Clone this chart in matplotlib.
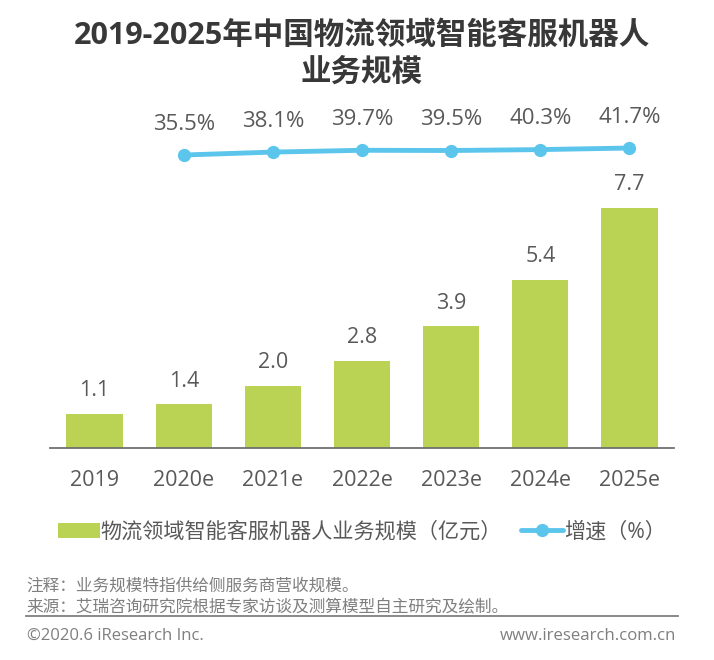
import matplotlib
matplotlib.use("Agg")
import matplotlib.pyplot as plt

plt.rcParams['font.family'] = ['Open Sans', 'Noto Sans CJK SC', 'DejaVu Sans']

# chart data
years = ['2019', '2020e', '2021e', '2022e', '2023e', '2024e', '2025e']
market_size = [1.1, 1.4, 2.0, 2.8, 3.9, 5.4, 7.7]
growth_years = ['2020e', '2021e', '2022e', '2023e', '2024e', '2025e']
growth_rate = [35.5, 38.1, 39.7, 39.5, 40.3, 41.7]

title = '2019-2025年中国物流领域智能客服机器人\n业务规模'
bar_label = '物流领域智能客服机器人业务规模（亿元）'
line_label = '增速（%）'
note = '注释：业务规模特指供给侧服务商营收规模。'
source = '来源：艾瑞咨询研究院根据专家访谈及测算模型自主研究及绘制。'
copyright_text = '©2020.6 iResearch Inc.'
website = 'www.iresearch.com.cn'

GREEN = '#BBD354'
BLUE = '#5BC5EC'
TEXT = '#595959'
GRAY = '#7F7F7F'

W, H = 714, 660
fig = plt.figure(figsize=(W / 100, H / 100), dpi=100, facecolor='white')

# axes box in pixels: x 50-674, y 100-448
ax = fig.add_axes([50 / W, (H - 448) / H, 624 / W, 348 / H])
ax.set_facecolor('none')
x = list(range(len(years)))
bars = ax.bar(x, market_size, width=0.63, color=GREEN)
ax.set_xlim(-0.5, 6.5)
ax.set_ylim(0, 11.16)
ax.set_xticks(x)
ax.set_xticklabels(years, fontsize=15.5, color=TEXT)
ax.set_yticks([])
ax.tick_params(axis='x', length=0, pad=15.5)
for s in ['top', 'left', 'right']:
    ax.spines[s].set_visible(False)
ax.spines['bottom'].set_color('#6F6F6F')
ax.spines['bottom'].set_linewidth(1.3)

for i, v in zip(x, market_size):
    ax.annotate(f'{v:.1f}', (i, v), xytext=(0, 9), textcoords='offset points',
                ha='center', va='bottom', fontsize=15.5, color=TEXT)

# growth rate on its own hidden scale
ax2 = ax.twinx()
ax2.set_ylim(-223.8, 84.2)
ax2.set_yticks([])
for s in ax2.spines.values():
    s.set_visible(False)
gx = [years.index(y) for y in growth_years]
line, = ax2.plot(gx, growth_rate, color=BLUE, lw=3.5, marker='o', ms=8.5, solid_capstyle='round')
for i, v in zip(gx, growth_rate):
    ax2.annotate(f'{v:.1f}%', (i, v), xytext=(0, 14.5), textcoords='offset points',
                 ha='center', va='bottom', fontsize=16, color=TEXT)

fig.text(362 / W, 1 - 54 / H, title, ha='center', va='center', fontsize=22,
         fontweight='bold', color='#383838', linespacing=1.3)

fig.legend([bars, line], [bar_label, line_label], loc='center', bbox_to_anchor=(362 / W, 1 - 532 / H),
           ncol=2, frameon=False, fontsize=15.2, labelcolor=TEXT, handlelength=2.0, handletextpad=0.05,
           columnspacing=0.9, borderpad=0, borderaxespad=0)

fig.text(26 / W, 1 - 587 / H, note, fontsize=12, color=GRAY, va='center')
fig.text(26 / W, 1 - 608 / H, source, fontsize=12, color=GRAY, va='center')
fig.add_artist(plt.Line2D([26 / W, 678 / W], [1 - 615.5 / H] * 2, color=GRAY, lw=1.3))
fig.text(27 / W, 1 - 636 / H, copyright_text, fontsize=12, color=GRAY, va='center')
fig.text(676 / W, 1 - 636 / H, website, fontsize=12.1, color=GRAY, va='center', ha='right')

fig.savefig('out.png', dpi=100)
